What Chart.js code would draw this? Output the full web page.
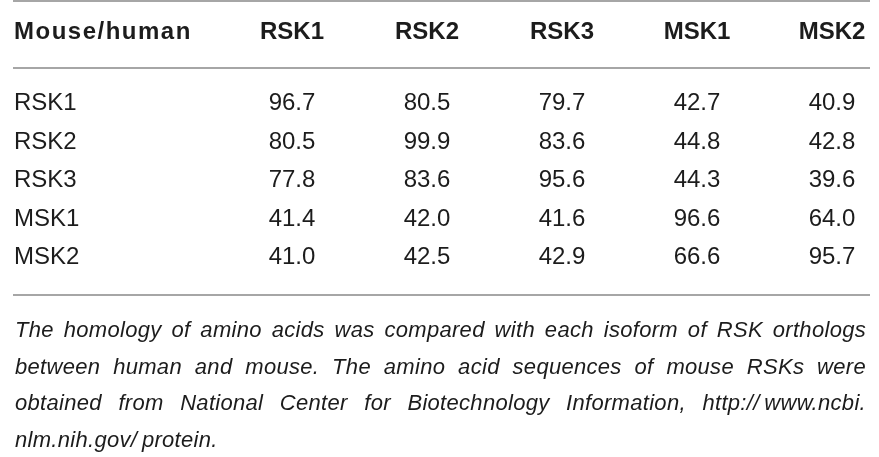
<!DOCTYPE html>
<html>
<head>
<meta charset="utf-8">
<title>RSK homology table</title>
<script src="https://cdn.jsdelivr.net/npm/chart.js@4.4.1/dist/chart.umd.min.js"></script>
<style>
  html, body { margin: 0; padding: 0; background: #ffffff; }
  #tableChart { display: block; }
</style>
</head>
<body>
<canvas id="tableChart" width="879" height="457"></canvas>
<script>
// --- Table data ---
const cornerLabel = 'Mouse/human';
const columnLabels = ['RSK1', 'RSK2', 'RSK3', 'MSK1', 'MSK2'];
const rowLabels = ['RSK1', 'RSK2', 'RSK3', 'MSK1', 'MSK2'];
const rsk1Values = [96.7, 80.5, 79.7, 42.7, 40.9];
const rsk2Values = [80.5, 99.9, 83.6, 44.8, 42.8];
const rsk3Values = [77.8, 83.6, 95.6, 44.3, 39.6];
const msk1Values = [41.4, 42.0, 41.6, 96.6, 64.0];
const msk2Values = [41.0, 42.5, 42.9, 66.6, 95.7];
const captionLines = [
    'The homology of amino acids was compared with each isoform of RSK orthologs',
    'between human and mouse. The amino acid sequences of mouse RSKs were',
    'obtained from National Center for Biotechnology Information, http://\u2009www.ncbi.',
    'nlm.nih.gov/\u2009protein.'
];

document.addEventListener("DOMContentLoaded", () => {
    const textColor = '#1c1c1c';
    const ruleColor = '#a6a6a6';
    const fontFamily = '"Liberation Sans", Arial, Helvetica, sans-serif';

    const rows = [rsk1Values, rsk2Values, rsk3Values, msk1Values, msk2Values];

    // one point per cell, placed by the category scales
    const cells = [];
    rows.forEach((vals, r) => {
        vals.forEach((v, c) => {
            cells.push({ x: columnLabels[c], y: rowLabels[r], v: v });
        });
    });

    // --- Justified caption helper ---
    function drawJustified(ctx, text, x, y, width, justify) {
        const words = text.split(' ');
        if (!justify || words.length < 2) {
            ctx.fillText(words.join(' '), x, y);
            return;
        }
        const wordsWidth = words.reduce((s, w) => s + ctx.measureText(w).width, 0);
        const gap = (width - wordsWidth) / (words.length - 1);
        let cx = x;
        words.forEach(w => {
            ctx.fillText(w, cx, y);
            cx += ctx.measureText(w).width + gap;
        });
    }

    // --- Table drawing plugin ---
    const tablePlugin = {
        id: 'tablePlugin',
        afterDatasetsDraw(chart) {
            const ctx = chart.ctx;
            const xScale = chart.scales.x;
            const yScale = chart.scales.y;
            const area = chart.chartArea;
            const left = 13, right = 870;

            ctx.save();

            // rules
            ctx.strokeStyle = ruleColor;
            ctx.lineWidth = 2;
            [1, area.top - 42, area.bottom + 31].forEach(y => {
                ctx.beginPath();
                ctx.moveTo(left, y);
                ctx.lineTo(right, y);
                ctx.stroke();
            });

            ctx.fillStyle = textColor;
            ctx.textBaseline = 'alphabetic';

            // header row
            const headerY = area.top - 71;
            ctx.font = 'bold 24px ' + fontFamily;
            ctx.textAlign = 'left';
            ctx.letterSpacing = '1.5px';
            ctx.fillText(cornerLabel, 14, headerY);
            ctx.letterSpacing = '0px';
            ctx.textAlign = 'center';
            columnLabels.forEach((lab, i) => {
                ctx.fillText(lab, xScale.getPixelForValue(i), headerY);
            });

            // row labels
            ctx.font = '24px ' + fontFamily;
            ctx.textAlign = 'left';
            rowLabels.forEach((lab, i) => {
                ctx.fillText(lab, 14, yScale.getPixelForValue(i));
            });

            // cell values
            ctx.textAlign = 'center';
            const meta = chart.getDatasetMeta(0);
            meta.data.forEach((pt, i) => {
                ctx.fillText(cells[i].v.toFixed(1), pt.x, pt.y);
            });

            // caption
            ctx.font = 'italic 22px ' + fontFamily;
            ctx.letterSpacing = '0.3px';
            ctx.textAlign = 'left';
            captionLines.forEach((line, i) => {
                const y = 337 + i * 36.5;
                drawJustified(ctx, line, 15, y, 866 - 15, i < captionLines.length - 1);
            });

            ctx.restore();
        }
    };

    // --- Chart ---
    const ctx = document.getElementById('tableChart').getContext('2d');
    new Chart(ctx, {
        type: 'scatter',
        data: {
            datasets: [{
                label: 'Homology (%)',
                data: cells,
                pointRadius: 0,
                pointHoverRadius: 0
            }]
        },
        options: {
            responsive: false,
            animation: false,
            events: [],
            layout: {
                padding: { left: 292, right: 47, top: 110, bottom: 193 }
            },
            plugins: {
                legend: { display: false },
                tooltip: { enabled: false }
            },
            scales: {
                x: {
                    type: 'category',
                    labels: columnLabels,
                    offset: false,
                    display: false
                },
                y: {
                    type: 'category',
                    labels: rowLabels,
                    offset: false,
                    display: false
                }
            }
        },
        plugins: [tablePlugin]
    });
});
</script>
</body>
</html>
